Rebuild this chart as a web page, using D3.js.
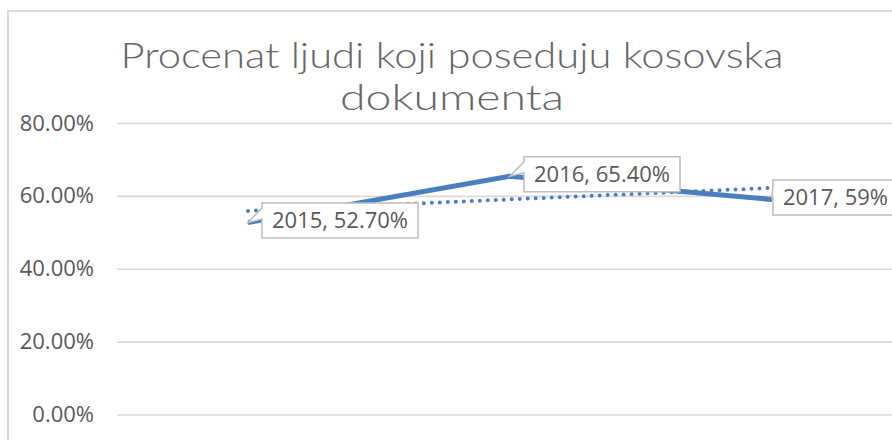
<!DOCTYPE html>
<html>
<head>
<meta charset="utf-8">
<script src="https://cdn.jsdelivr.net/npm/d3@7"></script>
<style>
  body { margin: 0; background: #fff; }
  svg { display: block; font-family: "Open Sans", sans-serif; }
</style>
</head>
<body>
<svg id="chart"></svg>
<script>
const years = ["2015", "2016", "2017"];
const values = [0.527, 0.654, 0.59];
const labelValues = ["52.70%", "65.40%", "59%"];
const yTicks = [0, 0.2, 0.4, 0.6, 0.8];
const titleLines = ["Procenat ljudi koji poseduju kosovska", "dokumenta"];

const width = 892;
const height = 440;
// rendered widths of the two title lines in the source (wide geometric face)
const titleWidths = [663, 224];

const svg = d3.select("#chart")
  .attr("width", width)
  .attr("height", height);

// chart border (cut off on right and bottom like the source)
svg.append("rect")
  .attr("x", 8)
  .attr("y", 11)
  .attr("width", 900)
  .attr("height", 460)
  .attr("fill", "#fff")
  .attr("stroke", "#d9d9d9")
  .attr("stroke-width", 2);

const x = d3.scalePoint()
  .domain(years)
  .range([117, 903])
  .padding(0.5);

const y = d3.scaleLinear()
  .domain([0, 0.8])
  .range([414.5, 123]);

// gridlines
svg.append("g")
  .attr("class", "grid")
  .attr("transform", "translate(117,0)")
  .call(d3.axisLeft(y).tickValues(yTicks).tickSize(-800).tickFormat(""))
  .call(g => g.select(".domain").remove())
  .call(g => g.selectAll("line").attr("stroke", "#d9d9d9").attr("stroke-width", 1.6));

// y labels
svg.append("g")
  .attr("transform", "translate(94,0)")
  .call(d3.axisLeft(y).tickValues(yTicks).tickSize(0).tickPadding(0).tickFormat(d3.format(".2%")))
  .call(g => g.select(".domain").remove())
  .call(g => g.selectAll("text")
    .attr("fill", "#595959")
    .attr("font-size", 22)
    .attr("font-family", "Open Sans, sans-serif"));

// title
svg.append("g")
  .selectAll("text")
  .data(titleLines)
  .join("text")
  .attr("x", 452)
  .attr("y", (d, i) => 68 + i * 42)
  .attr("text-anchor", "middle")
  .attr("fill", "#666")
  .attr("font-family", "Lato, sans-serif")
  .attr("font-weight", 300)
  .attr("font-size", 34.5)
  .attr("textLength", (d, i) => titleWidths[i])
  .attr("lengthAdjust", "spacingAndGlyphs")
  .text(d => d);

const points = years.map((yr, i) => ({ year: yr, value: values[i], label: labelValues[i] }));

// linear trendline from the data
const n = values.length;
const xs = d3.range(n);
const mx = d3.mean(xs);
const my = d3.mean(values);
const slope = d3.sum(xs, (v, i) => (v - mx) * (values[i] - my)) / d3.sum(xs, v => (v - mx) ** 2);
const trend = xs.map(i => ({ year: years[i], value: my + slope * (i - mx) }));

const line = d3.line()
  .x(d => x(d.year))
  .y(d => y(d.value));

svg.append("path")
  .datum(points)
  .attr("d", line)
  .attr("fill", "none")
  .attr("stroke", "#4a7ebf")
  .attr("stroke-width", 5)
  .attr("stroke-linejoin", "round");

svg.append("path")
  .datum(trend)
  .attr("d", line)
  .attr("fill", "none")
  .attr("stroke", "#4a7ebf")
  .attr("stroke-width", 4)
  .attr("stroke-linecap", "round")
  .attr("stroke-dasharray", "0 8");

// callout labels
const boxH = 35;
const padX = 10;
const rightLimit = 898;

const labels = svg.append("g")
  .selectAll("g")
  .data(points)
  .join("g");

labels.each(function (d) {
  const g = d3.select(this);
  const px = x(d.year);
  const py = y(d.value);
  const t = g.append("text")
    .attr("fill", "#595959")
    .attr("font-size", 22)
    .text(`${d.year}, ${d.label}`);
  const tw = t.node().getComputedTextLength();
  const bw = tw + padX * 2;
  let left = px + 14;
  if (left + bw > rightLimit) left = rightLimit - bw;
  const top = py - boxH / 2 - 2;
  const right = left + bw;
  const bottom = top + boxH;
  let path;
  if (left > px) {
    path = `M${left},${top}L${right},${top}L${right},${bottom}L${left},${bottom}` +
      `L${left},${top + 16}L${px},${py}L${left},${top + 5}Z`;
  } else {
    path = `M${left},${top}L${right},${top}L${right},${bottom}L${left},${bottom}Z`;
  }
  g.insert("path", "text")
    .attr("d", path)
    .attr("fill", "#fff")
    .attr("stroke", "#bfbfbf")
    .attr("stroke-width", 1.6);
  t.attr("x", left + padX)
    .attr("y", top + boxH / 2)
    .attr("dy", "0.36em");
});
</script>
</body>
</html>
